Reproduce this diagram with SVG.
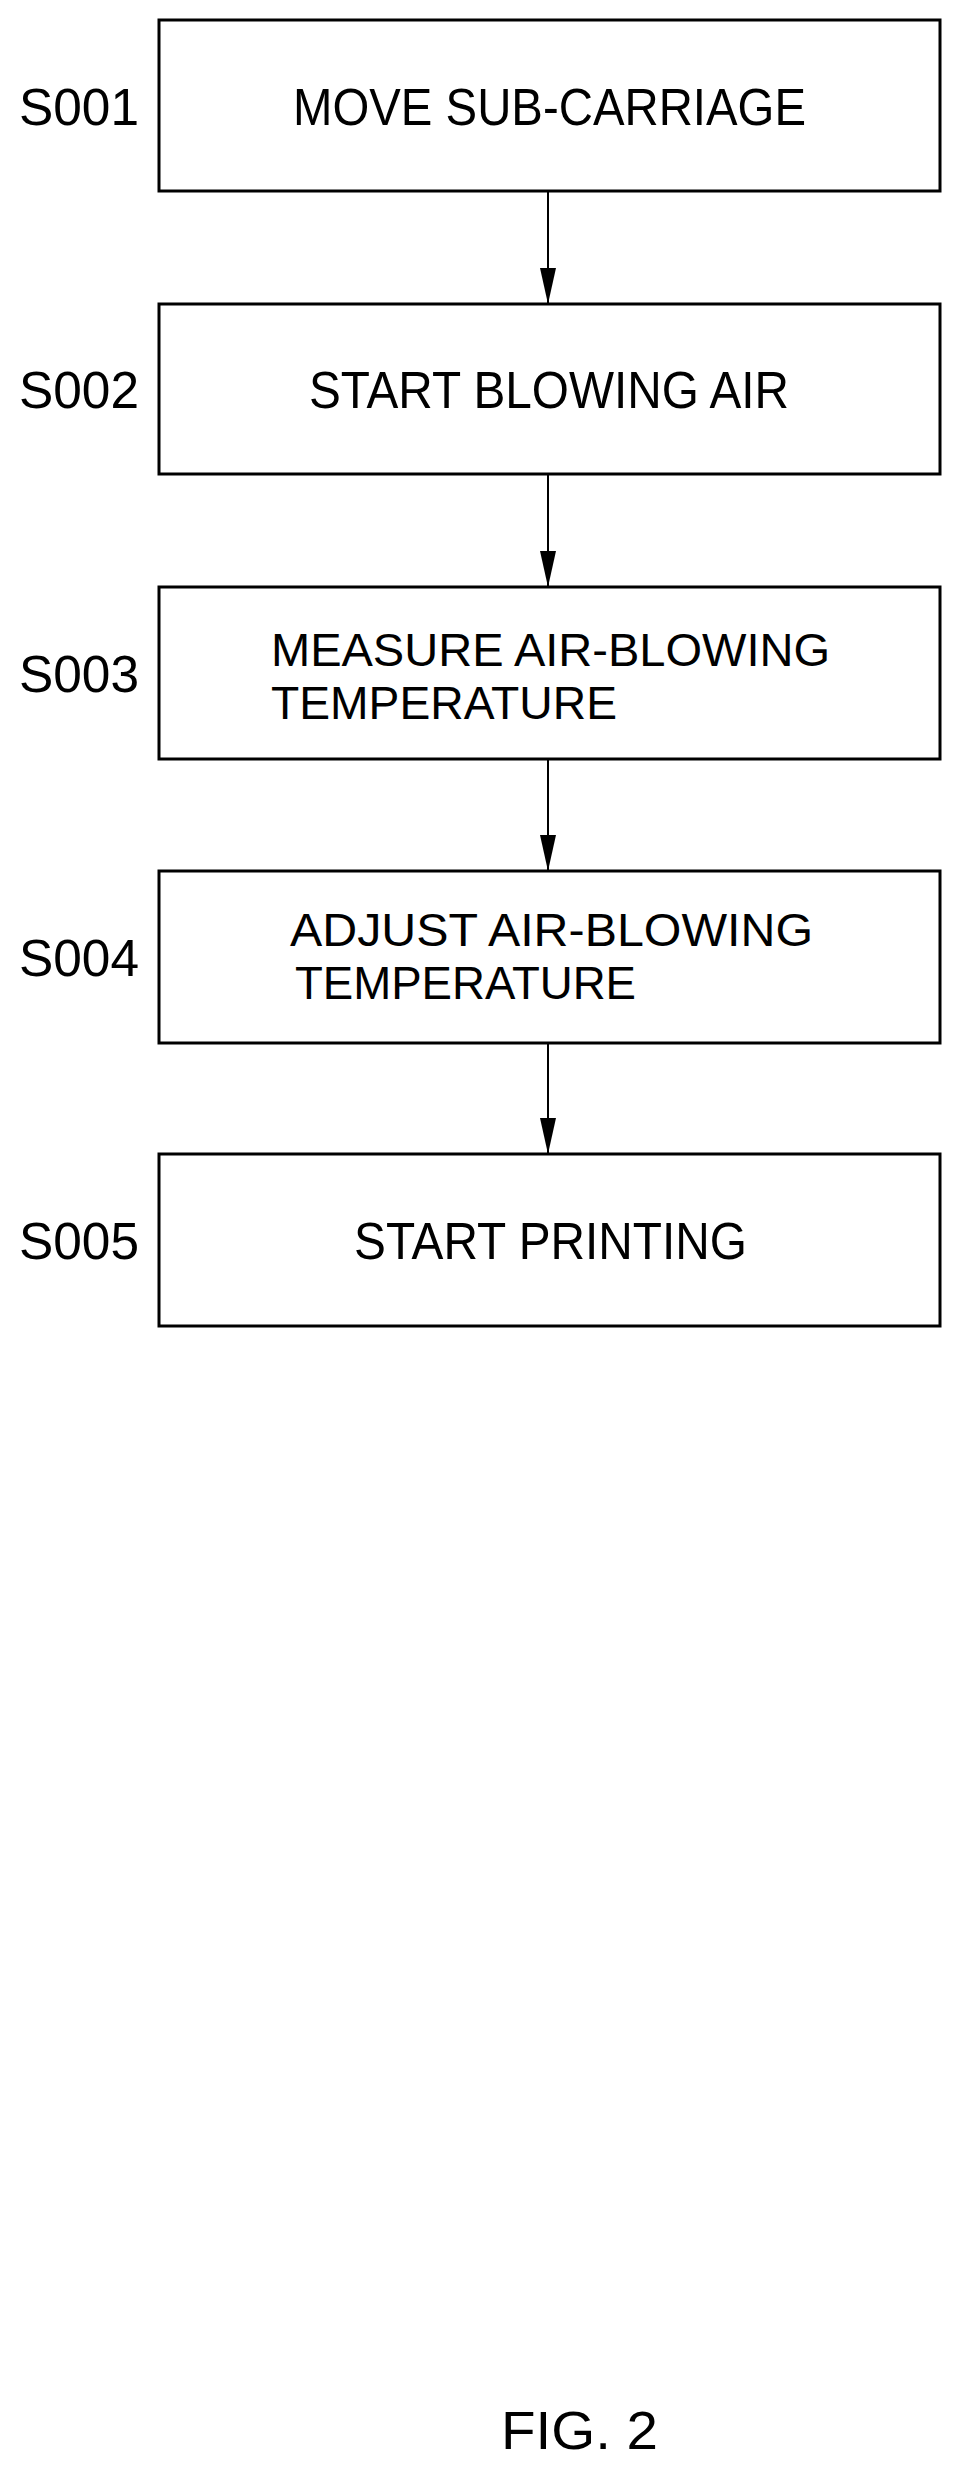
<svg xmlns="http://www.w3.org/2000/svg" width="961" height="2465" viewBox="0 0 961 2465">
<style>
rect{fill:#fff;stroke:#000;stroke-width:3}
text{font-family:"Liberation Sans",Arial,sans-serif;font-size:52px;fill:#000}
.t{font-size:46px}
.c{stroke:#000;stroke-width:2;fill:none}
</style>
<rect width="961" height="2465" style="stroke:none"/>
<g id="connectors">
<line class="c" x1="548" y1="191" x2="548" y2="304"/><path d="M540,268 L556,268 L548,304 Z"/>
<line class="c" x1="548" y1="474" x2="548" y2="587"/><path d="M540,551 L556,551 L548,587 Z"/>
<line class="c" x1="548" y1="759" x2="548" y2="871"/><path d="M540,835 L556,835 L548,871 Z"/>
<line class="c" x1="548" y1="1043" x2="548" y2="1154"/><path d="M540,1118 L556,1118 L548,1154 Z"/>
</g>
<g id="s001"><rect x="159" y="20" width="781" height="171"/><text x="19" y="125" textLength="120" lengthAdjust="spacingAndGlyphs">S001</text><text x="293" y="125" textLength="513" lengthAdjust="spacingAndGlyphs">MOVE SUB-CARRIAGE</text></g>
<g id="s002"><rect x="159" y="304" width="781" height="170"/><text x="19" y="408" textLength="120" lengthAdjust="spacingAndGlyphs">S002</text><text x="309" y="408" textLength="480" lengthAdjust="spacingAndGlyphs">START BLOWING AIR</text></g>
<g id="s003"><rect x="159" y="587" width="781" height="172"/><text x="19" y="692" textLength="120" lengthAdjust="spacingAndGlyphs">S003</text><text class="t" x="271" y="666" textLength="559" lengthAdjust="spacingAndGlyphs">MEASURE AIR-BLOWING</text><text class="t" x="271" y="719" textLength="346" lengthAdjust="spacingAndGlyphs">TEMPERATURE</text></g>
<g id="s004"><rect x="159" y="871" width="781" height="172"/><text x="19" y="976" textLength="120" lengthAdjust="spacingAndGlyphs">S004</text><text class="t" x="290" y="946" textLength="523" lengthAdjust="spacingAndGlyphs">ADJUST AIR-BLOWING</text><text class="t" x="295" y="999" textLength="341" lengthAdjust="spacingAndGlyphs">TEMPERATURE</text></g>
<g id="s005"><rect x="159" y="1154" width="781" height="172"/><text x="19" y="1259" textLength="120" lengthAdjust="spacingAndGlyphs">S005</text><text x="354" y="1259" textLength="393" lengthAdjust="spacingAndGlyphs">START PRINTING</text></g>
<text x="501" y="2449" style="font-size:54px" textLength="157" lengthAdjust="spacingAndGlyphs">FIG. 2</text>
</svg>
